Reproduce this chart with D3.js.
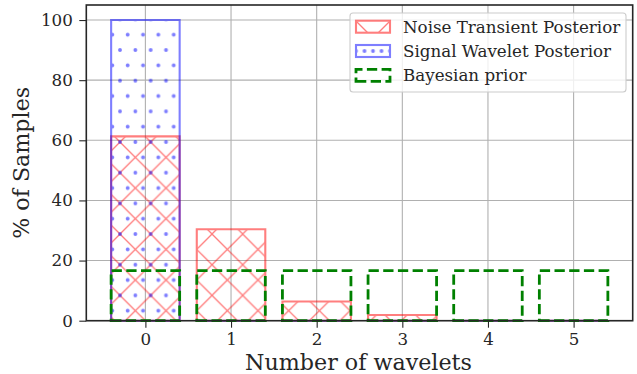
<!DOCTYPE html>
<html>
<head>
<meta charset="utf-8">
<script src="https://cdn.jsdelivr.net/npm/d3@7"></script>
<style>
  html, body { margin: 0; padding: 0; background: #fff; }
  svg { display: block; }
</style>
</head>
<body>
<script>
// Number of wavelets in each posterior sample
const categories = [0, 1, 2, 3, 4, 5];
// Percentage of samples per wavelet count
const noiseValues  = [61.3, 30.4, 6.4, 1.9, 0, 0];
const signalValues = [100, 0, 0, 0, 0, 0];
const priorValues  = [16.67, 16.67, 16.67, 16.67, 16.67, 16.67];
const yTicks = [0, 20, 40, 60, 80, 100];
const seriesNames = ["Noise Transient Posterior", "Signal Wavelet Posterior", "Bayesian prior"];

const W = 637, H = 374;
const plotL = 86.3, plotR = 632.7, plotT = 5, plotB = 320.7;
const font = "'DejaVu Serif', serif";

const svg = d3.select("body").append("svg").attr("width", W).attr("height", H);

const x = d3.scaleLinear().domain([-0.69, 5.69]).range([plotL, plotR]);
const y = d3.scaleLinear().domain([0, 105]).range([plotB, plotT]);
const barW = 0.8;

// hatch patterns: crossed diagonals and staggered dots
const P = 30.67;
const defs = svg.append("defs");
function crossPattern(id, ox, oy, size) {
  const p = defs.append("pattern").attr("id", id)
    .attr("patternUnits", "userSpaceOnUse")
    .attr("x", ox).attr("y", oy).attr("width", size).attr("height", size);
  const g = p.append("g").attr("stroke", "red").attr("stroke-width", 1.3).attr("fill", "none");
  g.append("line").attr("x1", -1).attr("y1", -1).attr("x2", size + 1).attr("y2", size + 1);
  g.append("line").attr("x1", -1).attr("y1", size + 1).attr("x2", size + 1).attr("y2", -1);
}
function dotPattern(id, ox, oy, size) {
  const p = defs.append("pattern").attr("id", id)
    .attr("patternUnits", "userSpaceOnUse")
    .attr("x", ox).attr("y", oy).attr("width", size).attr("height", size);
  const pts = [[0,0],[size/2,0],[size,0],[size/4,size/2],[3*size/4,size/2],[0,size],[size/2,size],[size,size]];
  p.selectAll("circle").data(pts).join("circle")
    .attr("cx", d => d[0]).attr("cy", d => d[1]).attr("r", 1.9).attr("fill", "blue");
}
crossPattern("hatch-x", 120, 172.7, P);
dotPattern("hatch-dot", 120, 172.7, P);
crossPattern("hatch-x-legend", 356, 21, 34);
dotPattern("hatch-dot-legend", 356 + 8.5, 51, 17);

// grid
const grid = svg.append("g");
grid.selectAll(".gx").data(categories).join("line")
  .attr("x1", d => x(d)).attr("x2", d => x(d)).attr("y1", plotT).attr("y2", plotB)
  .attr("stroke", "#b0b0b0").attr("stroke-width", 1.1);
grid.selectAll(".gy").data(yTicks).join("line")
  .attr("x1", plotL).attr("x2", plotR).attr("y1", d => y(d)).attr("y2", d => y(d))
  .attr("stroke", "#b0b0b0").attr("stroke-width", 1.1);

// bars drawn bottom-left first, like a rectangle path
function barPath(c, v) {
  const x0 = x(c - barW / 2), x1 = x(c + barW / 2), y0 = y(0), y1 = y(v);
  return `M${x0},${y0}L${x1},${y0}L${x1},${y1}L${x0},${y1}Z`;
}
const bars = svg.append("g");
bars.selectAll(".noise").data(categories).join("path")
  .attr("d", (c, i) => barPath(c, noiseValues[i]))
  .attr("fill", "url(#hatch-x)").attr("stroke", "red").attr("stroke-width", 2.1)
  .attr("opacity", 0.5);
bars.selectAll(".signal").data(categories).join("path")
  .attr("d", (c, i) => barPath(c, signalValues[i]))
  .attr("fill", "url(#hatch-dot)").attr("stroke", "blue").attr("stroke-width", 2.1)
  .attr("opacity", 0.5);
bars.selectAll(".prior").data(categories).join("path")
  .attr("d", (c, i) => barPath(c, priorValues[i]))
  .attr("fill", "none").attr("stroke", "green").attr("stroke-width", 2.8)
  .attr("stroke-dasharray", "10.3,4.4");

// axes
const xAxis = svg.append("g").attr("transform", `translate(0,${plotB})`)
  .call(d3.axisBottom(x).tickValues(categories).tickSize(7).tickPadding(5).tickFormat(d3.format("d")));
const yAxis = svg.append("g").attr("transform", `translate(${plotL},0)`)
  .call(d3.axisLeft(y).tickValues(yTicks).tickSize(7).tickPadding(6.5));
[xAxis, yAxis].forEach(a => {
  a.select(".domain").remove();
  a.selectAll(".tick line").attr("stroke", "#262626").attr("stroke-width", 1.1);
  a.selectAll(".tick text").attr("font-family", font).attr("font-size", 16.7).attr("fill", "#262626");
});

// frame
svg.append("rect").attr("x", plotL).attr("y", plotT).attr("width", plotR - plotL).attr("height", plotB - plotT)
  .attr("fill", "none").attr("stroke", "#262626").attr("stroke-width", 1.6);

// axis titles
svg.append("text").attr("x", (plotL + plotR) / 2 - 1).attr("y", 369.5)
  .attr("text-anchor", "middle").attr("font-family", font).attr("font-size", 22.2).attr("fill", "#262626")
  .text("Number of wavelets");
svg.append("text").attr("transform", `translate(29,${(plotT + plotB) / 2}) rotate(-90)`)
  .attr("text-anchor", "middle").attr("font-family", font).attr("font-size", 22.2).attr("fill", "#262626")
  .text("% of Samples");

// legend
const lg = svg.append("g");
lg.append("rect").attr("x", 350).attr("y", 13).attr("width", 276).attr("height", 79).attr("rx", 3)
  .attr("fill", "white").attr("fill-opacity", 0.8).attr("stroke", "#cccccc").attr("stroke-width", 1.1);
const rowY = [26.7, 51, 75.4];
const hx = 356, hw = 34, hh = 12;
lg.append("rect").attr("x", hx).attr("y", rowY[0] - hh / 2).attr("width", hw).attr("height", hh)
  .attr("fill", "url(#hatch-x-legend)").attr("stroke", "red").attr("stroke-width", 2.1).attr("opacity", 0.5);
lg.append("rect").attr("x", hx).attr("y", rowY[1] - hh / 2).attr("width", hw).attr("height", hh)
  .attr("fill", "url(#hatch-dot-legend)").attr("stroke", "blue").attr("stroke-width", 2.1).attr("opacity", 0.5);
lg.append("path")
  .attr("d", `M${hx},${rowY[2] + hh / 2}L${hx + hw},${rowY[2] + hh / 2}L${hx + hw},${rowY[2] - hh / 2}L${hx},${rowY[2] - hh / 2}Z`)
  .attr("fill", "none").attr("stroke", "green").attr("stroke-width", 2.8).attr("stroke-dasharray", "10.3,4.4");
lg.selectAll(".lt").data(seriesNames).join("text")
  .attr("x", 403).attr("y", (d, i) => rowY[i]).attr("dy", "0.35em")
  .attr("font-family", font).attr("font-size", 16.7).attr("fill", "#262626")
  .text(d => d);
</script>
</body>
</html>
